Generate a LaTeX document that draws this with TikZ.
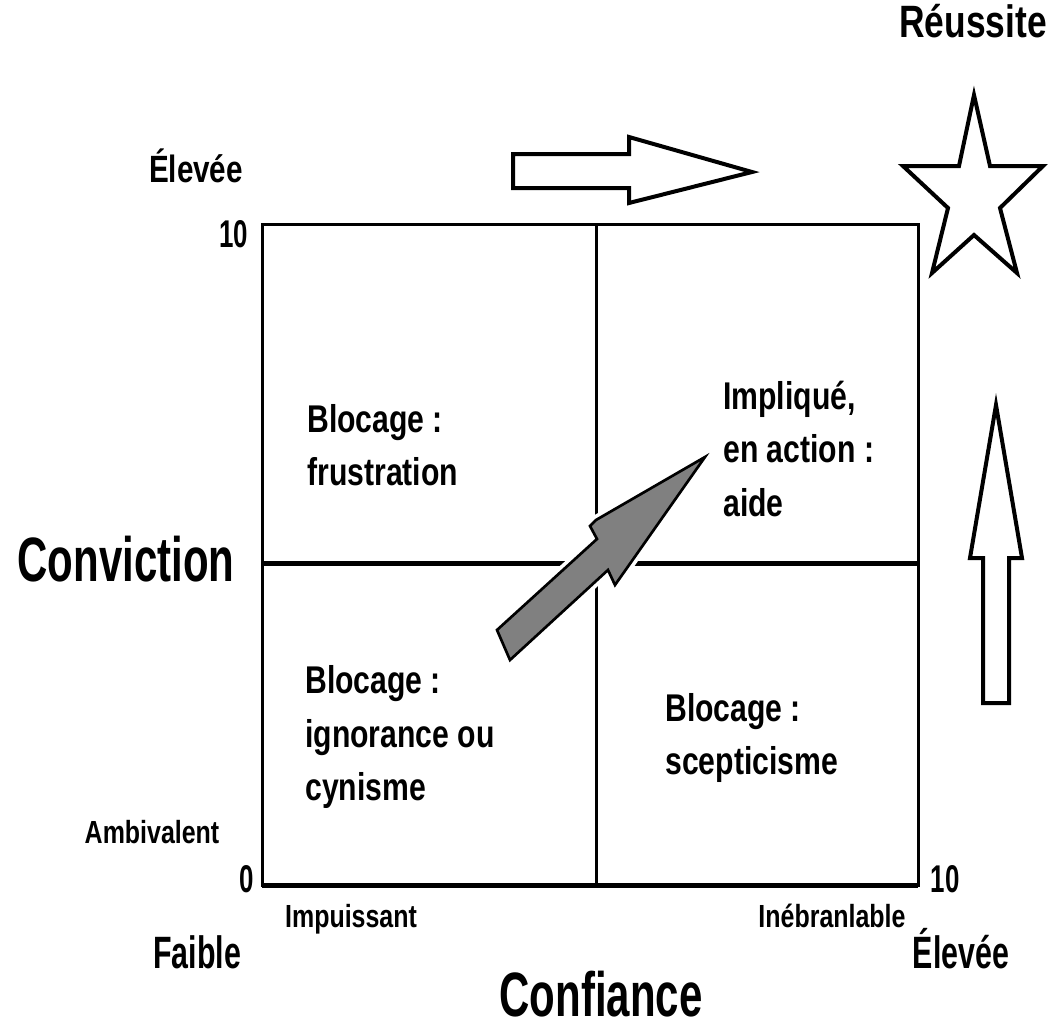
\documentclass[tikz,border=0pt]{standalone}
\usepackage{fontspec}
\setmainfont{Liberation Sans}
\newfontfamily\condfont[FakeStretch=0.78]{Liberation Sans}
\newfontfamily\narrowfont[FakeStretch=0.67]{Liberation Sans}
\usepackage{tikz}
\usetikzlibrary{positioning}
\definecolor{arrowgray}{HTML}{808080}
\newcommand{\Quad}{\condfont\bfseries\fontsize{29}{40}\selectfont}
\newcommand{\Small}{\condfont\bfseries\fontsize{24}{28}\selectfont}
\newcommand{\Tick}{\narrowfont\bfseries\fontsize{29}{34}\selectfont}
\newcommand{\Ends}{\narrowfont\bfseries\fontsize{34}{40}\selectfont}
\newcommand{\Axis}{\narrowfont\bfseries\fontsize{47}{54}\selectfont}

\begin{document}
\begin{tikzpicture}[x=0.75pt,y=-0.75pt,
    frame/.style={line width=2.25pt},
    thickline/.style={line width=3.75pt},
    hollow/.style={draw, fill=white, line width=3pt, line join=miter},
    quadtxt/.style={anchor=west, align=left, inner sep=0pt, font=\Quad},
    lbl/.style={anchor=base, inner sep=0pt}]
  \useasboundingbox (0,0) rectangle (1051,1029);
  % grid
  \coordinate (tl) at (262,224);
  \coordinate (br) at (918,885);
  \coordinate (mt) at (596,224);
  \coordinate (mb) at (596,885);
  \coordinate (ml) at (262,563);
  \coordinate (mr) at (918,563);
  \draw[frame] (tl) rectangle (br);
  \draw[frame] (mt) -- (mb);
  \draw[thickline] (ml) -- (mr);
  \draw[thickline] (br -| tl) -- (br);
  % grey arrow, white halo first
  \draw[white, line width=7.5pt, line join=miter]
    (705,457) -- (615,585) -- (608,570) -- (510,660) -- (497,630) -- (597,539) -- (590,526) -- (596,520) -- cycle;
  \draw[fill=arrowgray, line width=2pt, line join=miter]
    (705,457) -- (615,585) -- (608,570) -- (510,660) -- (497,630) -- (597,539) -- (590,526) -- (596,520) -- cycle;
  % hollow arrows + star
  \draw[hollow] (513,154) -- (629,154) -- (629,137) -- (752,172) -- (629,203) -- (629,188) -- (513,188) -- cycle;
  \draw[hollow] (983,703) -- (983,558) -- (970,558) -- (996,405) -- (1022,558) -- (1009,558) -- (1009,703) -- cycle;
  \draw[hollow] (974,95) -- (990,166) -- (1043,166) -- (1000,208) -- (1017,273) -- (974,235)
    -- (932,273) -- (948,208) -- (903,166) -- (959,166) -- cycle;
  % quadrants
  \node[quadtxt] (frust) at (307,445) {Blocage :\\frustration};
  \node[quadtxt] (impl) at (723,449) {Impliqué,\\en action :\\aide};
  \node[quadtxt] (ignor) at (305,737) {Blocage :\\ignorance ou\\cynisme};
  \node[quadtxt] (scept) at (665,738) {Blocage :\\scepticisme};
  % axis labels
  \node[lbl, font=\condfont\bfseries\fontsize{34}{40}\selectfont] (reuss) at (973,37) {Réussite};
  \node[lbl, font=\condfont\bfseries\fontsize{28.5}{34}\selectfont] (highy) at (196,182) {Élevée};
  \node[lbl, font=\Tick] (ytop) at (234,247) {10};
  \node[lbl, font=\Axis] (conv) at (126,581) {Conviction};
  \node[lbl, font=\Small] (ambiv) at (152,843) {Ambivalent};
  \node[lbl, font=\Tick] (zero) at (247,892) {0};
  \node[lbl, font=\Tick] (xtop) at (945,892) {10};
  \node[lbl, font=\Small] (impui) at (351,927) {Impuissant};
  \node[lbl, font=\Small] (inebr) at (832,927) {Inébranlable};
  \node[lbl, font=\Ends] (faib) at (197,968) {Faible};
  \node[lbl, font=\Ends] (highx) at (961,968) {Élevée};
  \node[lbl, font=\Axis] (conf) at (601,1016) {Confiance};
\end{tikzpicture}
\end{document}
